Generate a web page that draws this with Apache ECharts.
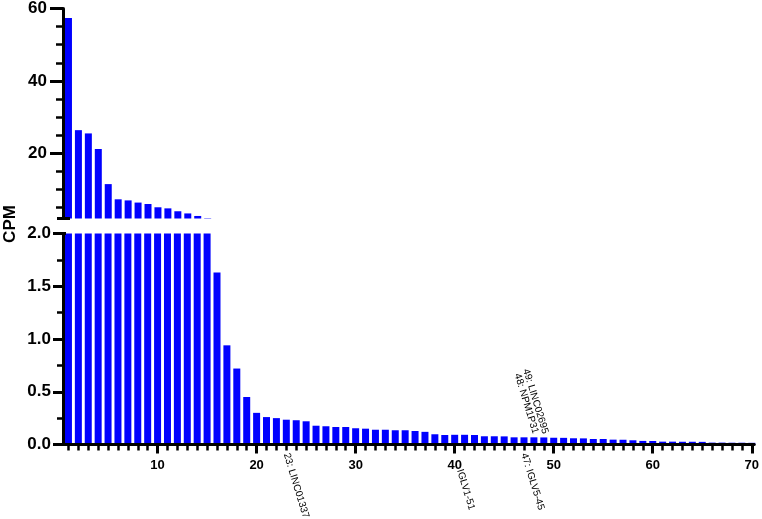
<!DOCTYPE html>
<html>
<head>
<meta charset="utf-8">
<script src="https://cdn.jsdelivr.net/npm/echarts@6/dist/echarts.min.js"></script>
<style>
  html, body { margin: 0; padding: 0; background: #fff; }
  #main { width: 762px; height: 519px; }
</style>
</head>
<body>
<div id="main"></div>
<script>
// rank of each gene (x position of the bar)
const rank = Array.from({ length: 70 }, (_, i) => i + 1);

// CPM per rank
const cpm = [
  57.4, 26.4, 25.5, 21.2, 11.5, 7.3, 7.0, 6.4, 6.0, 5.1,
  4.8, 4.0, 3.4, 2.7, 2.1, 1.63, 0.94, 0.72, 0.45, 0.30,
  0.26, 0.25, 0.235, 0.23, 0.22, 0.178, 0.173, 0.166, 0.166, 0.154,
  0.15, 0.14, 0.14, 0.135, 0.135, 0.128, 0.12, 0.097, 0.09, 0.092,
  0.092, 0.09, 0.078, 0.078, 0.077, 0.068, 0.068, 0.068, 0.067, 0.064,
  0.063, 0.059, 0.058, 0.052, 0.052, 0.046, 0.045, 0.04, 0.034, 0.033,
  0.027, 0.027, 0.026, 0.026, 0.025, 0.018, 0.018, 0.017, 0.017, 0.016
];

const xTicks = [10, 20, 30, 40, 50, 60, 70];
const topTicks = [20, 40, 60];
const topMinor = [5, 10, 15, 25, 30, 35, 45, 50, 55];
const bottomTicks = [0, 0.5, 1, 1.5, 2];
const bottomMinor = [0.25, 0.75, 1.25, 1.75];

// labelled genes
const notesBelow = [
  { rank: 23, text: '23: LINC01337' },
  { rank: 40, text: ': IGLV1-51', hidden: '40' },
  { rank: 47, text: '47: IGLV5-45' }
];
const notesAbove = [
  { rank: 48, text: '48: NPM1P31' },
  { rank: 49, text: '49: LINC02695' }
];

const BREAK = 2;
const X_MIN = 0.45, X_MAX = 70.25;
const FONT = "'Liberation Sans', Arial, sans-serif";
const BLUE = '#0000ff';

const chart = echarts.init(document.getElementById('main'));

const xBase = { type: 'value', min: X_MIN, max: X_MAX, position: 'bottom', splitLine: { show: false }, z: 5 };
const yBase = { type: 'value', position: 'left', splitLine: { show: false }, z: 5 };
const line3 = { show: true, onZero: false, lineStyle: { color: '#000', width: 3 } };
const noLine = { show: false, onZero: false };

chart.setOption({
  animation: false,
  grid: [
    { left: 63, right: 5, top: 5.5, height: 213 },
    { left: 63, right: 5, top: 233.5, height: 211 }
  ],
  xAxis: [
    Object.assign({}, xBase, { gridIndex: 0, show: false }),
    Object.assign({}, xBase, {
      gridIndex: 1,
      axisLine: line3,
      axisTick: { customValues: xTicks, length: 9, lineStyle: { color: '#000', width: 3 } },
      axisLabel: { customValues: xTicks, margin: 14, color: '#000', fontFamily: FONT, fontWeight: 'bold', fontSize: 13 }
    }),
    Object.assign({}, xBase, {
      gridIndex: 1,
      axisLine: noLine,
      axisTick: { customValues: rank, length: 6, lineStyle: { color: '#000', width: 2.5 } },
      axisLabel: { show: false }
    })
  ],
  yAxis: [
    Object.assign({}, yBase, {
      gridIndex: 0, min: BREAK, max: 60,
      axisLine: line3,
      axisTick: { customValues: topTicks, length: 13, lineStyle: { color: '#000', width: 3 } },
      axisLabel: { customValues: topTicks, margin: 16, color: '#000', fontFamily: FONT, fontWeight: 'bold', fontSize: 17 }
    }),
    Object.assign({}, yBase, {
      gridIndex: 0, min: BREAK, max: 60,
      axisLine: noLine,
      axisTick: { customValues: topMinor, length: 7, lineStyle: { color: '#000', width: 2.5 } },
      axisLabel: { show: false }
    }),
    Object.assign({}, yBase, {
      gridIndex: 1, min: 0, max: BREAK,
      axisLine: line3,
      axisTick: { customValues: bottomTicks, length: 10, lineStyle: { color: '#000', width: 3 } },
      axisLabel: {
        customValues: bottomTicks, margin: 12, color: '#000', fontFamily: FONT, fontWeight: 'bold', fontSize: 17,
        formatter: v => v.toFixed(1)
      }
    }),
    Object.assign({}, yBase, {
      gridIndex: 1, min: 0, max: BREAK,
      axisLine: noLine,
      axisTick: { customValues: bottomMinor, length: 6, lineStyle: { color: '#000', width: 2.5 } },
      axisLabel: { show: false }
    })
  ],
  series: [
    {
      type: 'bar', xAxisIndex: 0, yAxisIndex: 0, barWidth: 7, clip: true,
      itemStyle: { color: BLUE },
      data: rank.map((r, i) => [r, cpm[i]]).filter(d => d[1] > BREAK)
    },
    {
      type: 'bar', xAxisIndex: 1, yAxisIndex: 2, barWidth: 7, clip: true,
      itemStyle: { color: BLUE },
      data: rank.map((r, i) => [r, cpm[i]])
    }
  ]
});

// axis break caps, gene notes and the y title
const ROT = -73 * Math.PI / 180;
const xLeft = chart.convertToPixel({ xAxisIndex: 1 }, X_MIN);
const yTopBreak = chart.convertToPixel({ yAxisIndex: 0 }, BREAK);
const yBotBreak = chart.convertToPixel({ yAxisIndex: 2 }, BREAK);
const yZero = chart.convertToPixel({ yAxisIndex: 2 }, 0);

const graphics = [
  { type: 'line', z: 10, shape: { x1: xLeft - 6, y1: yTopBreak, x2: xLeft + 7, y2: yTopBreak }, style: { stroke: '#000', lineWidth: 3 } },
  { type: 'line', z: 10, shape: { x1: xLeft - 6, y1: yBotBreak, x2: xLeft + 3, y2: yBotBreak }, style: { stroke: '#000', lineWidth: 3 } },
  {
    type: 'text', x: 10, y: 224, rotation: Math.PI / 2,
    style: { text: 'CPM', fontFamily: FONT, fontWeight: 'bold', fontSize: 17, fill: '#000', align: 'center', verticalAlign: 'middle' }
  }
];

notesBelow.forEach(n => {
  const cx = chart.convertToPixel({ xAxisIndex: 1 }, n.rank);
  const txt = n.hidden ? '{h|' + n.hidden + '}' + n.text : n.text;
  graphics.push({
    type: 'text', x: cx, y: yZero + 9, rotation: ROT, z: 10,
    style: {
      text: txt, fontFamily: FONT, fontSize: 10, fill: '#000', align: 'left', verticalAlign: 'middle',
      rich: { h: { fill: 'rgba(0,0,0,0)', fontFamily: FONT, fontSize: 10 } }
    }
  });
});

notesAbove.forEach(n => {
  const p = chart.convertToPixel({ xAxisIndex: 1, yAxisIndex: 2 }, [n.rank, cpm[n.rank - 1]]);
  graphics.push({
    type: 'text', x: p[0] + 1.5, y: p[1] - 4, rotation: ROT, z: 10,
    style: { text: n.text, fontFamily: FONT, fontSize: 10, fill: '#000', align: 'right', verticalAlign: 'middle' }
  });
});

chart.setOption({ graphic: graphics });
</script>
</body>
</html>
